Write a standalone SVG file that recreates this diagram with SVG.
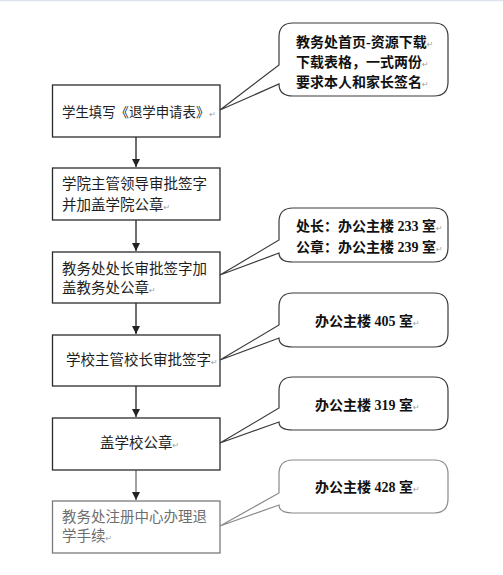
<svg xmlns="http://www.w3.org/2000/svg" width="503" height="575" viewBox="0 0 503 575">
<style>
.box{fill:#fff;stroke:#2b2b2b;stroke-width:1.3}
.box.g{stroke:#7a7a7a}
.call{fill:#fff;stroke:#3a3a3a;stroke-width:1.2}
.call.g{stroke:#8a8a8a}
.bt{font-family:"Noto Sans CJK SC","Noto Sans",sans-serif;font-size:14.5px;fill:#1e1e1e}
.bt.g{fill:#6e6e6e}
.ct{font-family:"Liberation Serif","Noto Sans CJK SC",serif;font-size:14px;font-weight:bold;fill:#111}
.pm{font-family:"DejaVu Sans",sans-serif;font-size:8px;font-weight:normal;fill:#a0a0a0}
.conn{stroke:#4a4a4a;stroke-width:1.6;fill:none}
.conn.g{stroke:#8a8a8a}
</style>
<defs>
<marker id="ah" markerUnits="userSpaceOnUse" markerWidth="9" markerHeight="9" refX="8" refY="4" orient="auto">
<path d="M0,0 L8,4 L0,8 Z" fill="#222"/>
</marker>
</defs>
<rect x="0" y="0" width="503" height="575" fill="#fff"/>
<rect x="0" y="0" width="503" height="1.2" fill="#dde3ee"/>

<g id="connectors">
<line class="conn" x1="136" y1="137" x2="136" y2="167" marker-end="url(#ah)"/>
<line class="conn" x1="136" y1="220" x2="136" y2="251" marker-end="url(#ah)"/>
<line class="conn" x1="136" y1="303" x2="136" y2="334" marker-end="url(#ah)"/>
<line class="conn" x1="136" y1="386" x2="136" y2="417" marker-end="url(#ah)"/>
<line class="conn g" x1="136" y1="470" x2="136" y2="500" marker-end="url(#ah)"/>
</g>

<g id="step1">
<rect class="box" x="52.5" y="85" width="167.5" height="52"/>
<text class="bt" x="62" y="117" style="font-size:13.4px">学生填写《退学申请表》<tspan class="pm">↵</tspan></text>
</g>
<g id="step2">
<rect class="box" x="52.5" y="168" width="167.5" height="52"/>
<text class="bt" x="62" y="189">学院主管领导审批签字</text>
<text class="bt" x="62" y="210">并加盖学院公章<tspan class="pm">↵</tspan></text>
</g>
<g id="step3">
<rect class="box" x="52.5" y="252" width="167.5" height="51"/>
<text class="bt" x="62" y="274">教务处处长审批签字加</text>
<text class="bt" x="62" y="293">盖教务处公章<tspan class="pm">↵</tspan></text>
</g>
<g id="step4">
<rect class="box" x="52.5" y="335" width="167.5" height="51"/>
<text class="bt" x="66" y="365">学校主管校长审批签字<tspan class="pm">↵</tspan></text>
</g>
<g id="step5">
<rect class="box" x="52.5" y="418" width="167.5" height="52"/>
<text class="bt" x="100" y="448">盖学校公章<tspan class="pm">↵</tspan></text>
</g>
<g id="step6">
<rect class="box g" x="52.5" y="501" width="167.5" height="52"/>
<text class="bt g" x="62" y="522">教务处注册中心办理退</text>
<text class="bt g" x="62" y="541">学手续<tspan class="pm">↵</tspan></text>
</g>

<g id="note1">
<path class="call" d="M293,23 H434 Q448,23 448,37 V82 Q448,96 434,96 H293 Q279,96 279,84 L220,110 L279,65 V37 Q279,23 293,23 Z"/>
<text class="ct" x="296" y="47">教务处首页-资源下载<tspan class="pm">↵</tspan></text>
<text class="ct" x="296" y="67">下载表格，一式两份<tspan class="pm">↵</tspan></text>
<text class="ct" x="296" y="87">要求本人和家长签名<tspan class="pm">↵</tspan></text>
</g>
<g id="note2">
<path class="call" d="M293,208 H434 Q448,208 448,222 V248 Q448,262 434,262 H293 Q279,262 279,253 L220,275 L279,240 V222 Q279,208 293,208 Z"/>
<text class="ct" x="296" y="231">处长：办公主楼 233 室<tspan class="pm">↵</tspan></text>
<text class="ct" x="296" y="252">公章：办公主楼 239 室<tspan class="pm">↵</tspan></text>
</g>
<g id="note3">
<path class="call" d="M293,293 H434 Q448,293 448,307 V333 Q448,347 434,347 H293 Q279,347 279,338 L220,360 L279,325 V307 Q279,293 293,293 Z"/>
<text class="ct" x="315" y="326">办公主楼 405 室<tspan class="pm">↵</tspan></text>
</g>
<g id="note4">
<path class="call" d="M293,377 H434 Q448,377 448,391 V416 Q448,430 434,430 H293 Q279,430 279,422 L220,443 L279,408 V391 Q279,377 293,377 Z"/>
<text class="ct" x="315" y="410">办公主楼 319 室<tspan class="pm">↵</tspan></text>
</g>
<g id="note5">
<path class="call g" d="M293,460 H434 Q448,460 448,474 V499 Q448,513 434,513 H293 Q279,513 279,505 L220,526 L279,493 V474 Q279,460 293,460 Z"/>
<text class="ct" x="315" y="492">办公主楼 428 室<tspan class="pm">↵</tspan></text>
</g>
</svg>
